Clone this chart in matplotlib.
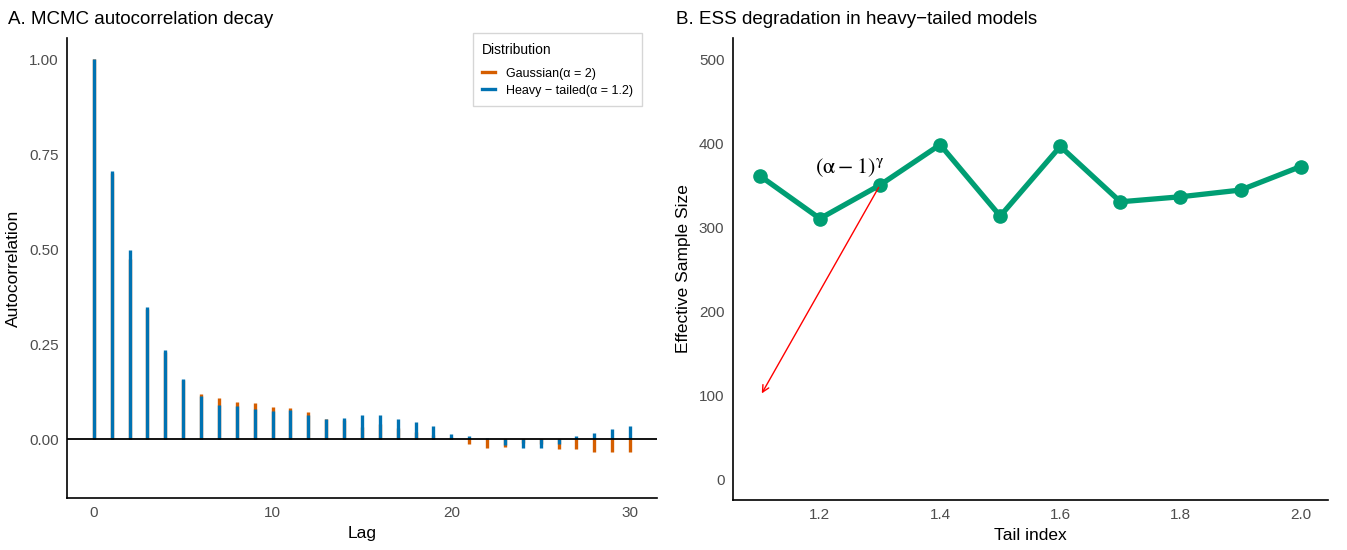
import matplotlib
matplotlib.use("Agg")
import matplotlib.pyplot as plt
from matplotlib.lines import Line2D

plt.rcParams['font.family'] = ['Liberation Sans', 'DejaVu Sans']

# ---- Panel A data ----
lags = list(range(31))
acf_gaussian = [1.00, 0.700, 0.474, 0.343, 0.230, 0.156, 0.120, 0.108, 0.099, 0.095,
                0.084, 0.082, 0.071, 0.053, 0.050, 0.031, 0.040, 0.028, 0.019, 0.010,
                0.005, -0.014, -0.024, -0.020, -0.010, -0.012, -0.025, -0.027, -0.035, -0.035,
                -0.035]
acf_heavy = [1.00, 0.705, 0.497, 0.347, 0.234, 0.158, 0.113, 0.091, 0.088, 0.079,
             0.075, 0.076, 0.064, 0.052, 0.055, 0.063, 0.063, 0.054, 0.044, 0.035,
             0.014, 0.009, 0.002, -0.015, -0.024, -0.024, -0.014, 0.009, 0.016, 0.026,
             0.034]
series_labels = ["Gaussian(\u03b1 = 2)", "Heavy \u2212 tailed(\u03b1 = 1.2)"]

# ---- Panel B data ----
tail_index = [1.1, 1.2, 1.3, 1.4, 1.5, 1.6, 1.7, 1.8, 1.9, 2.0]
ess = [361, 310, 350, 398, 313, 396, 330, 336, 344, 372]

c_gauss = "#D55E00"
c_heavy = "#0072B2"
c_green = "#009E73"
tick_col = "#4D4D4D"

fig = plt.figure(figsize=(13.47, 5.5), dpi=100)
ax1 = fig.add_axes([0.0497, 0.0945, 0.438, 0.836])
ax2 = fig.add_axes([0.544, 0.0909, 0.4417, 0.84])

for ax in (ax1, ax2):
    for s in ("top", "right"):
        ax.spines[s].set_visible(False)
    for s in ("left", "bottom"):
        ax.spines[s].set_linewidth(1.2)
        ax.spines[s].set_color("black")
    ax.tick_params(axis="both", length=0, labelsize=11, colors=tick_col, pad=6)

# Panel A
ax1.vlines(lags, 0, acf_gaussian, colors=c_gauss, linewidth=2.4, label=series_labels[0])
ax1.vlines(lags, 0, acf_heavy, colors=c_heavy, linewidth=2.4, label=series_labels[1])
ax1.axhline(0, color="black", linewidth=1.3, zorder=3)
ax1.set_xlim(-1.5, 31.5)
ax1.set_ylim(-0.155, 1.055)
ax1.set_xticks([0, 10, 20, 30])
ax1.set_yticks([0, 0.25, 0.5, 0.75, 1.0])
ax1.set_yticklabels(["0.00", "0.25", "0.50", "0.75", "1.00"])
ax1.set_xlabel("Lag", fontsize=12.5, labelpad=4)
ax1.set_ylabel("Autocorrelation", fontsize=12.5, labelpad=6)
ax1.set_title("A. MCMC autocorrelation decay", loc="left", fontsize=13.5, x=-0.1,
              pad=10)
handles = [Line2D([], [], color=c_gauss, linewidth=2.4),
           Line2D([], [], color=c_heavy, linewidth=2.4)]
leg = ax1.legend(handles, series_labels, title="Distribution", loc="upper right",
                 bbox_to_anchor=(0.975, 1.011), borderaxespad=0.0,
                 fontsize=9, title_fontsize=10,
                 frameon=True, fancybox=False, handlelength=1.0, handletextpad=0.9,
                 borderpad=0.75, labelspacing=0.4)
leg.get_frame().set_edgecolor("#CCCCCC")
leg.get_frame().set_linewidth(1.0)
leg._legend_box.align = "left"
leg._legend_box.sep = 8

# Panel B
ax2.plot(tail_index, ess, color=c_green, linewidth=3.8, marker="o", markersize=9.5,
         solid_capstyle="butt")
ax2.set_xlim(1.055, 2.045)
ax2.set_ylim(-25, 525)
ax2.set_xticks([1.2, 1.4, 1.6, 1.8, 2.0])
ax2.set_yticks([0, 100, 200, 300, 400, 500])
ax2.set_xlabel("Tail index", fontsize=12.5, labelpad=4)
ax2.set_ylabel("Effective Sample Size", fontsize=12.5, labelpad=6)
ax2.set_title("B. ESS degradation in heavy\u2212tailed models", loc="left", fontsize=13.5,
              x=-0.095, pad=10)
ax2.annotate("", xy=(1.101, 99), xytext=(1.3, 350),
             arrowprops=dict(arrowstyle="->", color="red", linewidth=1.0,
                             mutation_scale=12))
ax2.text(1.25, 371, r"$(\mathrm{\alpha} - 1)^{\mathrm{\gamma}}$", fontsize=16,
         ha="center", va="center", math_fontfamily="stix")

fig.savefig("out.png", dpi=100)
